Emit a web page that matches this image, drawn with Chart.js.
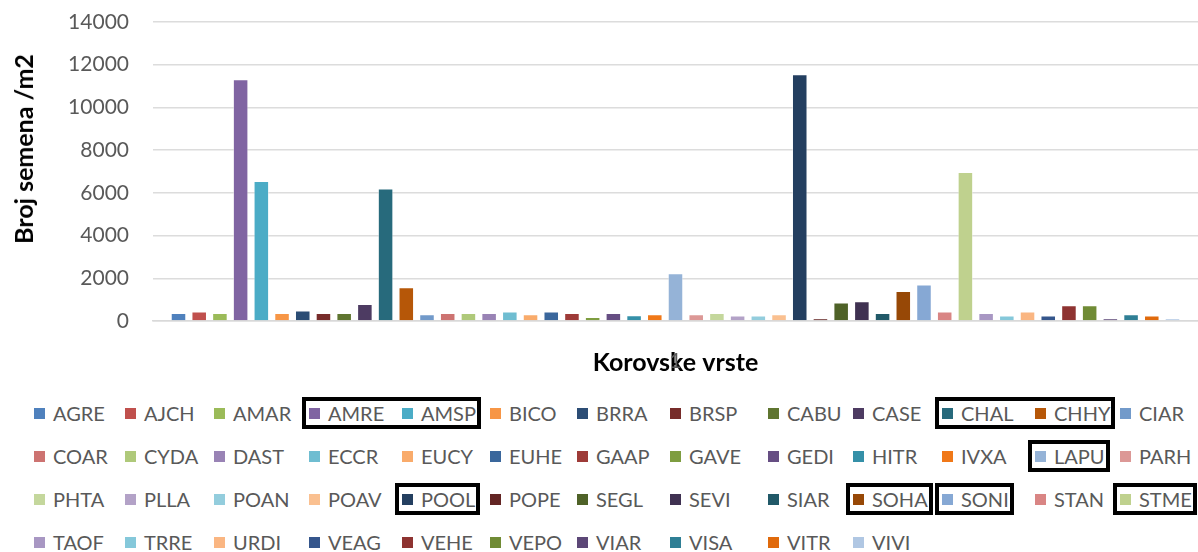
<!DOCTYPE html>
<html>
<head>
<meta charset="utf-8">
<script src="https://cdn.jsdelivr.net/npm/chart.js@4.4.1/dist/chart.umd.min.js"></script>
<style>
    html, body { margin: 0; padding: 0; background: #fff; }
    #wrap { position: relative; width: 1198px; height: 552px; overflow: hidden; font-family: Lato, sans-serif; }
    #seedChart { position: absolute; left: 0; top: 0; }
    #y-title { position: absolute; left: 23px; top: 149px; transform: translate(-50%, -50%) rotate(-90deg); font-size: 25px; font-weight: bold; color: #000; white-space: nowrap; }
    .legend-item { position: absolute; display: flex; align-items: center; height: 24px; font-size: 20px; color: #595959; white-space: nowrap; }
    .legend-item i { display: inline-block; width: 11px; height: 11px; margin-right: 8px; }
    .mark-box { position: absolute; border: 4px solid #000; box-sizing: border-box; }
</style>
</head>
<body>
<div id="wrap">
    <canvas id="seedChart" width="1198" height="385"></canvas>
    <div id="y-title">Broj semena /m2</div>
    <div id="legend"></div>
</div>
<script>
// weed species (one bar each, single category "1")
const species = [
    'AGRE', 'AJCH', 'AMAR', 'AMRE', 'AMSP', 'BICO', 'BRRA', 'BRSP', 'CABU', 'CASE', 'CHAL', 'CHHY', 'CIAR',
    'COAR', 'CYDA', 'DAST', 'ECCR', 'EUCY', 'EUHE', 'GAAP', 'GAVE', 'GEDI', 'HITR', 'IVXA', 'LAPU', 'PARH',
    'PHTA', 'PLLA', 'POAN', 'POAV', 'POOL', 'POPE', 'SEGL', 'SEVI', 'SIAR', 'SOHA', 'SONI', 'STAN', 'STME',
    'TAOF', 'TRRE', 'URDI', 'VEAG', 'VEHE', 'VEPO', 'VIAR', 'VISA', 'VITR', 'VIVI'
];

// seeds per m2
const seedCounts = [
    370, 450, 370, 11320, 6560, 370, 490, 370, 370, 800, 6200, 1580, 320,
    380, 380, 380, 440, 320, 440, 380, 190, 380, 270, 320, 2230, 320,
    380, 260, 260, 320, 11550, 130, 870, 930, 380, 1400, 1710, 450, 6980,
    380, 260, 450, 260, 740, 740, 130, 320, 260, 130
];

const barColors = [
    '#4f81bd', '#c0504d', '#9bbb59', '#8064a2', '#4bacc6', '#f79646', '#2c4d75', '#772c2a', '#5f7530', '#4d3b62', '#276a7c', '#b65708', '#729aca',
    '#cd7371', '#afc97a', '#9983b5', '#6fbdd1', '#f9ab6b', '#3a679c', '#9e3b38', '#7e9d40', '#664e83', '#3590a8', '#f07818', '#95b3d7', '#dc9896',
    '#c4d79c', '#b3a2c7', '#93cddd', '#fac090', '#243f60', '#632523', '#4f6228', '#3f3151', '#215968', '#974806', '#86a8d4', '#d98584', '#bfd18e',
    '#a897c3', '#85c8da', '#fab682', '#35568c', '#8e3331', '#708b35', '#5c4777', '#2f7f95', '#e06a0c', '#b0c7e3'
];

const categories = ['1'];
const yTicks = { min: 0, max: 14000, step: 2000 };

// species whose legend entries are boxed in the original figure
const boxedGroups = [['AMRE', 'AMSP'], ['CHAL', 'CHHY'], ['LAPU'], ['POOL'], ['SOHA'], ['SONI'], ['STME']];

const FONT = 'Lato, sans-serif';
const GREY = '#595959';

new Chart(document.getElementById('seedChart'), {
    type: 'bar',
    data: {
        labels: categories,
        datasets: species.map((name, i) => ({
            label: name,
            data: [seedCounts[i]],
            backgroundColor: barColors[i],
            borderColor: 'rgba(255,255,255,0.45)',
            borderWidth: 1,
            categoryPercentage: 0.971,
            barPercentage: 0.75
        }))
    },
    options: {
        responsive: false,
        animation: false,
        layout: { padding: { top: 22, right: -6, left: 0, bottom: 0 } },
        plugins: {
            legend: { display: false },
            tooltip: { enabled: false }
        },
        scales: {
            x: {
                grid: { display: false, drawTicks: false },
                border: { color: '#d9d9d9', width: 1.5 },
                ticks: { color: GREY, font: { family: FONT, size: 21 }, padding: 28 },
                title: {
                    display: true,
                    text: 'Korovske vrste',
                    color: '#000',
                    font: { family: FONT, size: 25, weight: 'bold' },
                    padding: { top: 0, bottom: 7 }
                },
                afterFit: (scale) => { scale.height = 64; }
            },
            y: {
                min: yTicks.min,
                max: yTicks.max,
                grid: { color: '#dcdcdc', lineWidth: 1.5, drawTicks: false },
                border: { display: false },
                ticks: {
                    stepSize: yTicks.step,
                    color: GREY,
                    font: { family: FONT, size: 21 },
                    padding: 24,
                    callback: (v) => String(v)
                },
                afterFit: (scale) => {
                    scale.width = 153;
                    scale.paddingTop = 0;
                    scale.paddingBottom = 0;
                }
            }
        }
    }
});

// legend: 13 columns, 4 rows, as laid out in the original
const legendColX = [34, 125, 214, 309, 402, 490, 577, 670, 768, 853, 942, 1035, 1120];
const legendRowY = [413, 456, 499, 542];
const legendEl = document.getElementById('legend');

const itemEls = species.map((name, i) => {
    const el = document.createElement('div');
    el.className = 'legend-item';
    el.style.left = legendColX[i % 13] + 'px';
    el.style.top = (legendRowY[Math.floor(i / 13)] - 12) + 'px';
    el.innerHTML = `<i style="background:${barColors[i]}"></i>${name}`;
    legendEl.appendChild(el);
    return el;
});

boxedGroups.forEach(group => {
    const first = itemEls[species.indexOf(group[0])];
    const last = itemEls[species.indexOf(group[group.length - 1])];
    const left = first.offsetLeft - 7;
    const right = last.offsetLeft + last.offsetWidth + 5;
    const box = document.createElement('div');
    box.className = 'mark-box';
    box.style.left = left + 'px';
    box.style.top = (first.offsetTop - 4) + 'px';
    box.style.width = (right - left) + 'px';
    box.style.height = '32px';
    legendEl.appendChild(box);
});
</script>
</body>
</html>
